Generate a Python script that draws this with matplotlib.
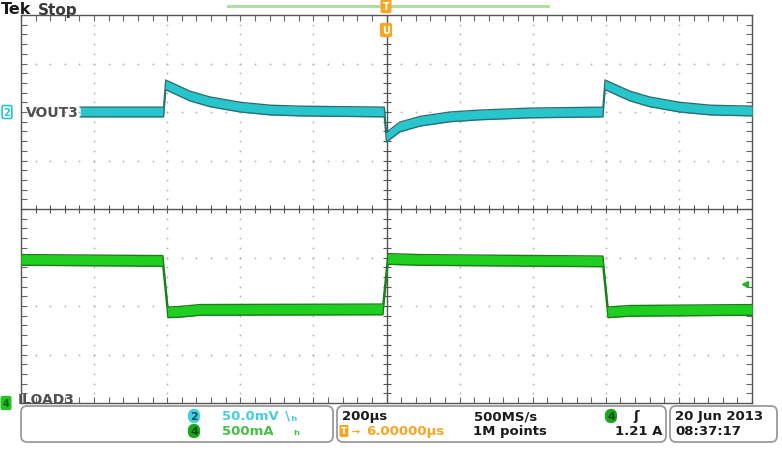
import numpy as np
import matplotlib
matplotlib.use('Agg')
import matplotlib.pyplot as plt
import matplotlib.transforms as mtransforms
from matplotlib.patches import FancyBboxPatch

# time in divisions (200us/div), values in divisions
vout_t = [0.81, 1.95, 1.98, 2.31, 2.585, 3.0, 3.41, 3.82, 4.97, 5.0, 5.18,
          5.46, 5.87, 6.28, 6.96, 7.96, 7.99, 8.33, 8.6, 9.01, 9.43, 10.0]
vout_v = [2.0, 2.0, 2.56, 2.33, 2.21, 2.10, 2.04, 2.02, 2.0, 1.48, 1.69,
          1.81, 1.90, 1.94, 1.98, 2.0, 2.56, 2.33, 2.21, 2.10, 2.04, 2.02]

iload_t = [0.0, 1.94, 2.01, 2.175, 2.45, 4.95, 5.02, 5.46, 7.96, 8.03,
           8.33, 10.0]
iload_v = [-1.05, -1.07, -2.13, -2.12, -2.08, -2.07, -1.03, -1.05, -1.08,
           -2.13, -2.10, -2.08]

W, H = 782, 464


def fx(px):
    return px / W


def fy(py):
    return 1 - py / H


fig = plt.figure(figsize=(W / 100, H / 100), dpi=100)
fig.patch.set_facecolor('white')
ax = fig.add_axes([fx(21), fy(404), 731 / W, 388 / H])
ax.set_xlim(0, 10)
ax.set_ylim(-4, 4)

# graticule
for s in ax.spines.values():
    s.set_color('#555555')
    s.set_linewidth(1.0)
ax.set_xticks(np.arange(0, 10.01, 0.2))
ax.set_yticks(np.arange(-4, 4.01, 0.2))
ax.tick_params(direction='in', length=4, width=0.8, color='#666666',
               top=True, right=True, labelbottom=False, labelleft=False)

grid_kw = dict(ls='', marker='o', ms=1.3, mew=0, color='#b0b0b0', zorder=1)
for gx in [1, 2, 3, 4, 6, 7, 8, 9]:
    ys = np.arange(-4, 4.01, 0.2)
    ax.plot(np.full_like(ys, gx), ys, **grid_kw)
for gy in [-3, -2, -1, 1, 2, 3]:
    xs = np.arange(0, 10.01, 0.2)
    ax.plot(xs, np.full_like(xs, gy), **grid_kw)

ax.axhline(0, color='#555555', lw=1.0, zorder=2)
ax.axvline(5, color='#555555', lw=1.0, zorder=2)
xs = np.arange(0, 10.01, 0.2)
ax.plot(xs, np.zeros_like(xs), ls='', marker='|', ms=6, mew=0.8,
        color='#555555', zorder=2)
ys = np.arange(-4, 4.01, 0.2)
ax.plot(np.full_like(ys, 5), ys, ls='', marker='_', ms=6, mew=0.8,
        color='#555555', zorder=2)


def band(t, v, half, fill, edge):
    t = np.array(t)
    v = np.array(v)
    ax.fill_between(t, v - half, v + half, color=fill, lw=0, zorder=4)
    ax.plot(t, v + half, color=edge, lw=1.0, zorder=5)
    ax.plot(t, v - half, color=edge, lw=1.0, zorder=5)


band(vout_t, vout_v, 0.1, '#27c6cc', '#2c6f72')
band(iload_t, iload_v, 0.11, '#1fcf1f', '#1a7d1a')

# channel labels
fig.text(fx(26), fy(113), 'VOUT3', fontsize=10, fontweight='bold',
         color='#505050', va='center', ha='left', zorder=10)
fig.text(fx(7), fy(113), '2', fontsize=7, fontweight='bold',
         color='#27c6cc', va='center', ha='center',
         bbox=dict(boxstyle='round,pad=0.15', facecolor='white',
                   edgecolor='#27c6cc', lw=1.2))
fig.text(fx(18), fy(404), 'ILOAD3', fontsize=10, fontweight='bold',
         color='#505050', va='baseline', ha='left')
fig.text(fx(6), fy(404), '4', fontsize=7, fontweight='bold',
         color='#0d5d0d', va='center', ha='center',
         bbox=dict(boxstyle='round,pad=0.15', facecolor='#22c422',
                   edgecolor='#22c422'))

# top line
fig.text(fx(1), fy(10), 'Tek', fontsize=11.5, fontweight='heavy',
         color='#1a1a1a', va='center', ha='left')
fig.text(fx(38), fy(10), 'Stop', fontsize=11, fontweight='bold',
         color='#3a3a3a', va='center', ha='left')
fig.add_artist(plt.Line2D([fx(228), fx(548)], [fy(7), fy(7)],
                          color='#b2dca8', lw=2.2))
fig.text(fx(386), fy(7), 'T', fontsize=7, fontweight='bold',
         color='white', va='center', ha='center',
         bbox=dict(boxstyle='round,pad=0.15', facecolor='#f5a623',
                   edgecolor='#f5a623'))
fig.text(fx(386), fy(31), 'U', fontsize=7, fontweight='bold',
         color='white', va='center', ha='center',
         bbox=dict(boxstyle='round,pad=0.15', facecolor='#f5a623',
                   edgecolor='#f5a623'))
fig.add_artist(plt.Line2D([fx(745)], [fy(285)], marker='<', ms=5,
                          color='#22b422', ls=''))

# status bar
ident = mtransforms.IdentityTransform()
for x0, x1 in [(21, 333), (337, 666), (670, 777)]:
    fig.patches.append(FancyBboxPatch(
        (x0, H - 443), x1 - x0, 36, boxstyle='round,pad=0,rounding_size=6',
        facecolor='white', edgecolor='#9a9a9a', lw=1.3, transform=ident,
        zorder=0))

fs = 9.5
fig.text(fx(194), fy(417), '2', fontsize=8, fontweight='bold',
         color='#1c4d55', va='center', ha='center',
         bbox=dict(boxstyle='round,pad=0.2,rounding_size=0.6',
                   facecolor='#3fd3e0', edgecolor='none'))
fig.text(fx(194), fy(432), '4', fontsize=8, fontweight='bold',
         color='#0b4a0b', va='center', ha='center',
         bbox=dict(boxstyle='round,pad=0.2,rounding_size=0.6',
                   facecolor='#1aa81a', edgecolor='none'))
fig.text(fx(222), fy(417), '50.0mV', fontsize=fs, fontweight='bold',
         color='#48cde0', va='center')
fig.text(fx(283), fy(417), '\u2216\u2095', fontsize=fs, fontweight='bold',
         color='#48cde0', va='center')
fig.text(fx(222), fy(432), '500mA', fontsize=fs, fontweight='bold',
         color='#45c045', va='center')
fig.text(fx(293), fy(432), '\u2095', fontsize=fs, fontweight='bold',
         color='#45c045', va='center')

fig.text(fx(342), fy(417), '200\u00b5s', fontsize=fs, fontweight='bold',
         color='#1a1a1a', va='center')
fig.text(fx(341), fy(432), 'T', fontsize=6, fontweight='bold',
         color='white', va='center',
         bbox=dict(boxstyle='round,pad=0.1', facecolor='#f5a623',
                   edgecolor='#f5a623'))
fig.text(fx(352), fy(432), '\u2192', fontsize=7, fontweight='bold',
         color='#f5a623', va='center')
fig.text(fx(366), fy(432), '6.00000\u00b5s', fontsize=fs, fontweight='bold',
         color='#f5a623', va='center')
fig.text(fx(474), fy(417), '500MS/s', fontsize=fs, fontweight='bold',
         color='#1a1a1a', va='center')
fig.text(fx(473), fy(432), '1M points', fontsize=fs, fontweight='bold',
         color='#1a1a1a', va='center')
fig.text(fx(611), fy(417), '4', fontsize=8, fontweight='bold',
         color='#0b4a0b', va='center', ha='center',
         bbox=dict(boxstyle='round,pad=0.2,rounding_size=0.6',
                   facecolor='#1aa81a', edgecolor='none'))
fig.text(fx(636), fy(417), '\u0283', fontsize=fs, fontweight='bold',
         color='#1a1a1a', va='center', ha='center')
fig.text(fx(662), fy(432), '1.21 A', fontsize=fs, fontweight='bold',
         color='#1a1a1a', va='center', ha='right')
fig.text(fx(675), fy(417), '20 Jun 2013', fontsize=fs, fontweight='bold',
         color='#1a1a1a', va='center')
fig.text(fx(675), fy(432), '08:37:17', fontsize=fs, fontweight='bold',
         color='#1a1a1a', va='center')

fig.savefig('out.png', dpi=100)
